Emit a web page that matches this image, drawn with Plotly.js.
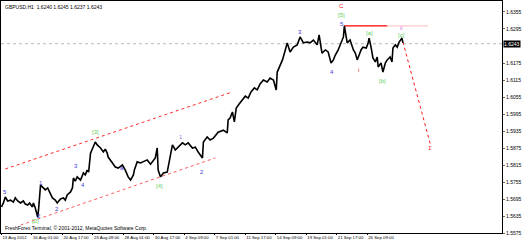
<!DOCTYPE html>
<html><head><meta charset="utf-8">
<script src="https://cdn.plot.ly/plotly-3.0.1.min.js"></script>
<style>html,body{margin:0;padding:0;background:#fff}#c{width:522px;height:243px}</style>
</head><body><div id="c"></div>
<script>
// hour index (H1 bars from 13 Aug 2012) and price path
const hours = [0,4,8,13,19,25,29,34,40,46,50,55,59,65,67,71,76,78,82,
 88,92,97,103,107,113,117,124,130,134,138,145,149,151,155,159,166,172,176,180,183,187,191,197,201,
 208,214,218,222,224,233,239,245,254,260,266,271,277,279,285,292,298,306,313,317,323,327,329,334,340,348,
 355,359,365,371,380,386,392,401,407,413,422,424,432,438,445,455,466,474,476,
 480,485,489,493,499,506,512,518,524,531,537,543,
 550,558,564,571,577,579,583,590,596,600,606,613,621,627,634,642,648,655,663,667,673,680,686,692,697,701,707,713,718,720,
 724,726,732,739,743,747,751,755,759,766,770,772,776,780,785,789,791,797,801,806,810,816,820,822,827,831,835,841,843];
const prices = [1.5667,1.5681,1.5702,1.5688,1.5691,1.5684,1.5699,1.5688,1.5681,1.5688,1.5677,1.5674,1.5681,1.5667,1.5681,1.5663,1.5631,1.5660,1.5744,
 1.5734,1.5727,1.5734,1.5716,1.5699,1.5691,1.5681,1.5695,1.5699,1.5691,1.5709,1.5720,1.5734,1.5769,1.5758,1.5773,1.5762,1.5787,1.5780,1.5797,1.5790,1.5857,1.5875,1.5896,1.5886,
 1.5875,1.5861,1.5871,1.5857,1.5843,1.5822,1.5808,1.5804,1.5815,1.5797,1.5773,1.5762,1.5780,1.5797,1.5826,1.5822,1.5826,1.5833,1.5818,1.5826,1.5840,1.5875,1.5797,1.5773,1.5787,1.5790,
 1.5857,1.5886,1.5868,1.5878,1.5893,1.5886,1.5893,1.5875,1.5878,1.5861,1.5840,1.5896,1.5914,1.5903,1.5910,1.5931,1.5938,1.5928,1.5974,
 1.5981,1.6002,1.5967,1.6016,1.6030,1.6044,1.6058,1.6051,1.6073,1.6087,1.6080,1.6101,
 1.6115,1.6108,1.6122,1.6115,1.6080,1.6143,1.6161,1.6186,1.6221,1.6246,1.6214,1.6231,1.6239,1.6267,1.6246,1.6249,1.6246,1.6256,1.6239,1.6274,1.6210,1.6221,1.6214,1.6175,1.6186,1.6203,1.6221,1.6249,1.6267,1.6306,
 1.6267,1.6246,1.6256,1.6221,1.6210,1.6186,1.6203,1.6221,1.6231,1.6228,1.6246,1.6263,1.6231,1.6193,1.6179,1.6196,1.6161,1.6175,1.6143,1.6175,1.6186,1.6196,1.6179,1.6228,1.6239,1.6231,1.6249,1.6263,1.6246];

const chUpT = [8, 485], chUpP = [1.5801, 1.6073];
const chLoT = [40, 449], chLoP = [1.5603, 1.5840];
const resT = [720, 810], resP = [1.6306, 1.6306];
const resExtT = [810, 896], resExtP = [1.6306, 1.6306];
const projT = [843, 902], projP = [1.6249, 1.5879];

const bid = 1.6243;
const tickHours = [0,64,128,192,256,320,384,448,512,576,640,704,768];
const tickText = ["13 Aug 2012","16 Aug 01:00","20 Aug 17:00","23 Aug 09:00","28 Aug 01:00","30 Aug 17:00","4 Sep 09:00","7 Sep 01:00","11 Sep 17:00","14 Sep 09:00","19 Sep 01:00","21 Sep 17:00","26 Sep 09:00"];
const priceTicks = [1.6355,1.6295,1.6175,1.6115,1.6055,1.5995,1.5935,1.5875,1.5815,1.5755,1.5695,1.5635,1.5575];

// wave labels
const lblText = ["5","2","[2]","1","2","3","4","[3]","a","[4]","1","2","3","4","5","[5]","C","i","[a]","[b]","ii","[c]","1"];
const lblHour = [8,78,71,84,117,157,172,197,254,332,378,422,627,694,715,715,715,749,772,801,839,841,900];
const lblPrice = [1.5720,1.5635,1.5617,1.5751,1.5660,1.5811,1.5744,1.5931,1.5804,1.5741,1.5914,1.5790,1.6284,1.6143,1.6313,1.6344,1.6376,1.6150,1.6281,1.6111,1.6299,1.6274,1.5875];
const lblKind = ["b","b","g","b","b","b","b","g","b","g","p","b","b","b","b","g","r","r","g","g","m","g","r"];

const colors = {b:"#3a3ad8", g:"#5fcf5f", r:"#ff2020", m:"#e070e0", p:"#9a7ae0"};
const F = "Liberation Sans, Arial, sans-serif";

const traces = [
 {x: chUpT, y: chUpP, mode:"lines", line:{color:"#ff2a2a", width:1, dash:"dot"}, hoverinfo:"skip"},
 {x: chLoT, y: chLoP, mode:"lines", line:{color:"#ff5a5a", width:1, dash:"dot"}, hoverinfo:"skip"},
 {x: resExtT, y: resExtP, mode:"lines", line:{color:"#ffc8c8", width:1.2}, hoverinfo:"skip"},
 {x: resT, y: resP, mode:"lines", line:{color:"#ff0000", width:1.3}, hoverinfo:"skip"},
 {x: projT, y: projP, mode:"lines", line:{color:"#ff1a1a", width:1, dash:"dot"}, hoverinfo:"skip"},
 {x: hours, y: prices, mode:"lines", line:{color:"#000", width:1.6}, hoverinfo:"skip"}
];

const ann = lblText.map((t,i)=>({x: lblHour[i], y: lblPrice[i], xref:"x", yref:"y", text: t, showarrow:false,
  font:{family:F, size:6, color: colors[lblKind[i]]}, xanchor:"center", yanchor:"middle"}));
ann.push({xref:"paper", yref:"y", x:1, y:bid, xanchor:"left", xshift:1, text: bid.toFixed(4), showarrow:false,
  bgcolor:"#000", font:{family:F, size:5, color:"#fff"}, borderpad:0});
ann.push({xref:"paper", yref:"paper", x:0.004, y:1, yshift:-1, xanchor:"left", yanchor:"top", text:"GBPUSD,H1  1.6240 1.6245 1.6237 1.6243", showarrow:false, font:{family:F, size:5, color:"#000"}});
ann.push({xref:"paper", yref:"paper", x:0.004, y:0.0, yshift:0, xanchor:"left", yanchor:"bottom", text:"FreshForex Terminal, © 2001-2012, MetaQuotes Software Corp.", showarrow:false, font:{family:F, size:5, color:"#000"}});

const layout = {
 width:522, height:243, margin:{l:1, r:20, t:1, b:10, pad:0},
 paper_bgcolor:"#fff", plot_bgcolor:"#fff", showlegend:false,
 xaxis:{range:[-1,1051], tickvals:tickHours, ticktext:tickText, tickangle:0, ticks:"outside", ticklen:1, tickcolor:"#000",
   ticklabelposition:"outside right", ticklabelstandoff:0, tickfont:{family:F, size:4.3, color:"#000"}, showgrid:false, zeroline:false,
   showline:true, linecolor:"#000", linewidth:1, mirror:true, fixedrange:true},
 yaxis:{range:[1.55750,1.63938], side:"right", tickvals:priceTicks, tickformat:".4f", ticks:"outside", ticklen:2,
   tickcolor:"#666", tickfont:{family:F, size:5, color:"#000"}, showgrid:false, zeroline:false,
   showline:true, linecolor:"#000", linewidth:1, mirror:true, fixedrange:true},
 shapes:[{type:"line", xref:"paper", x0:0, x1:1, yref:"y", y0:bid, y1:bid, line:{color:"#b8b8b8", width:1, dash:"dot"}, layer:"below"}],
 annotations: ann
};
Plotly.newPlot("c", traces, layout, {staticPlot:true, displayModeBar:false});
</script></body></html>
